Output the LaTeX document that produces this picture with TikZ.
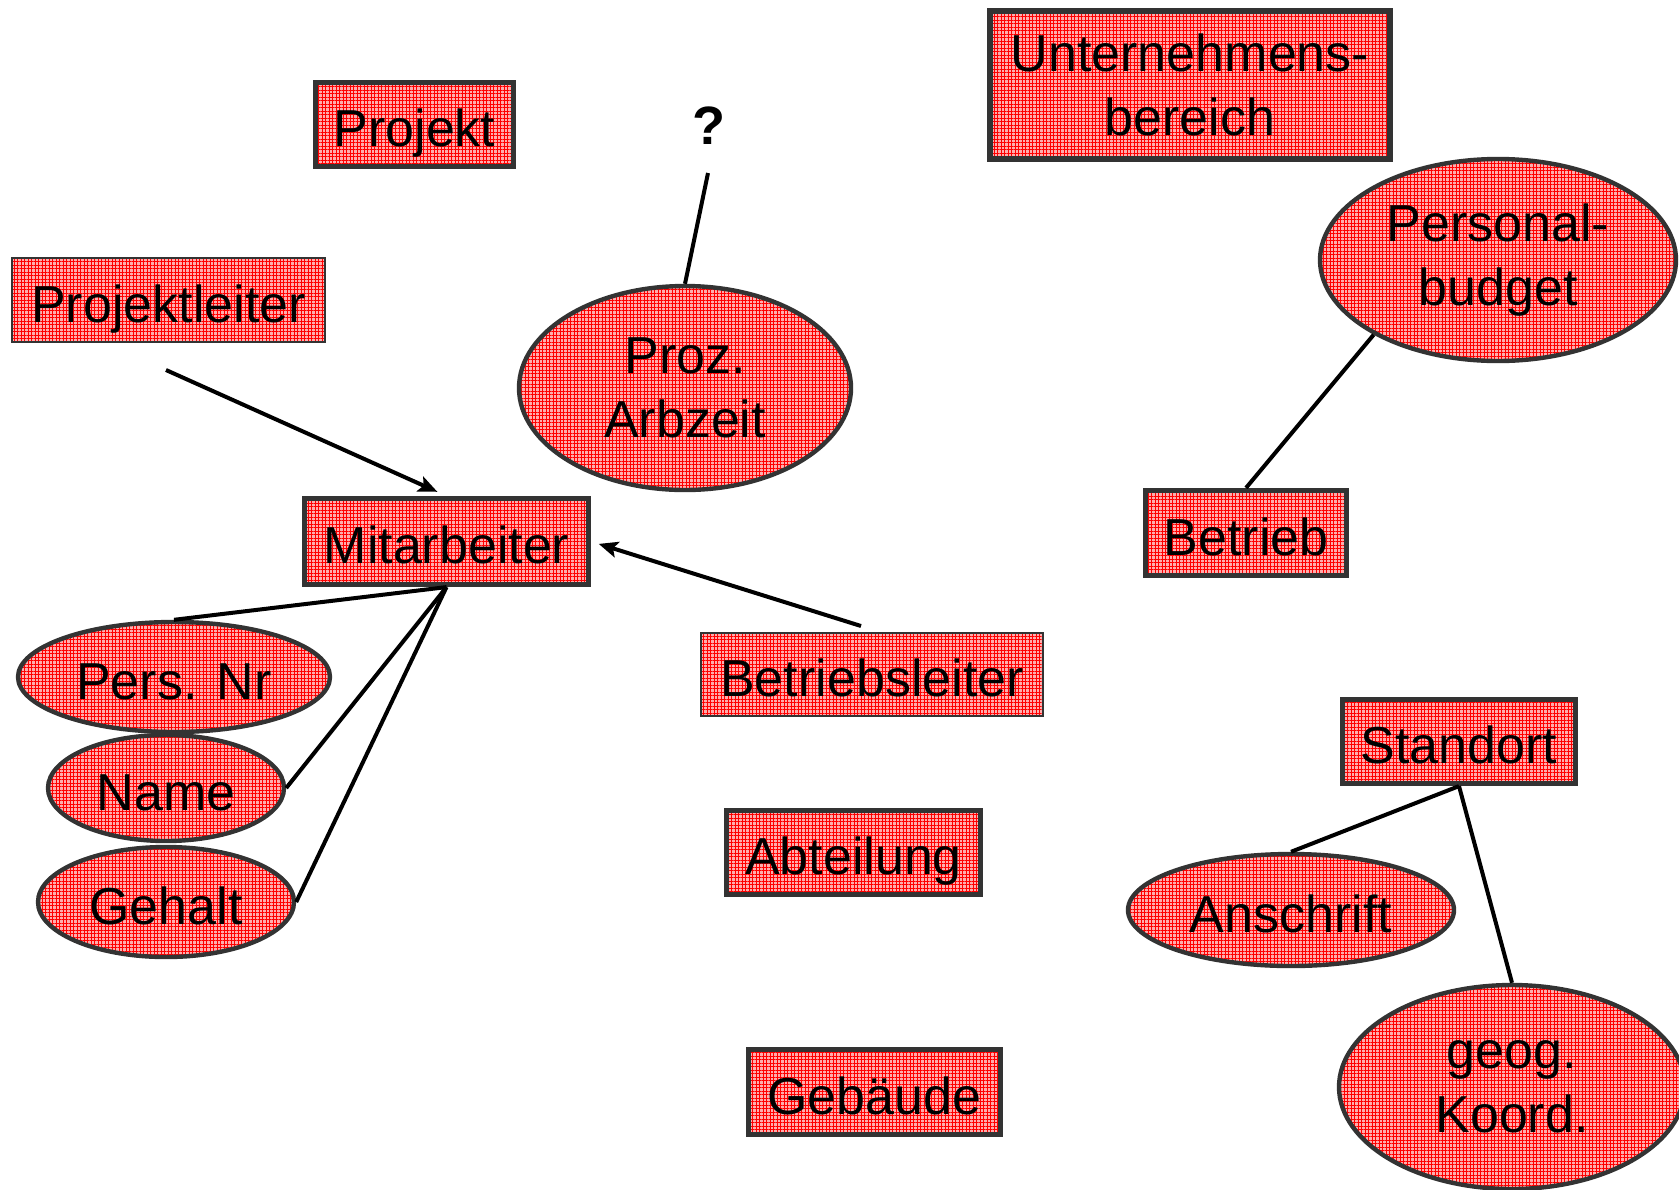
\documentclass[tikz,border=0pt]{standalone}
\usepackage{fontspec}
\setmainfont{Liberation Sans}
\usetikzlibrary{shapes.geometric,patterns.meta,arrows.meta}
\tikzset{
  kariert/.style={pattern={Hatch[angle=0,distance=1.75pt,line width=0.2pt]},pattern color=red,preaction={fill=red!32}},
  entity/.style={kariert,draw=black!80,line width=2.6pt,rectangle,inner sep=0pt,align=center,font=\fontsize{26}{32}\selectfont},
  duenn/.style={entity,line width=1pt},
  attrib/.style={kariert,draw=black!80,line width=2.2pt,ellipse,inner sep=0pt,align=center,font=\fontsize{26}{32}\selectfont},
  einzeilig/.style={text height=22.5pt,text depth=0.5pt},
  verb/.style={line width=2pt},
  pfeil/.style={verb,-{Stealth[length=9.5pt,width=8pt,inset=2pt]}}
}
\begin{document}
\begin{tikzpicture}[x=0.5pt,y=-0.5pt]
\useasboundingbox (0,0) rectangle (1679,1189);
% Entitaeten
\node[entity,einzeilig,minimum width=99pt,minimum height=42pt] (projekt) at (414.5,124.5) {Projekt};
\node[duenn,einzeilig,minimum width=156.5pt,minimum height=42pt] (pl) at (168.5,300) {Projektleiter};
\node[entity,minimum width=200pt,minimum height=74pt] (ub) at (1190,85) {Unternehmens-\\bereich};
\node[entity,einzeilig,minimum width=100.5pt,minimum height=42.5pt] (betrieb) at (1246,533) {Betrieb};
\node[entity,einzeilig,minimum width=142pt,minimum height=43pt] (mit) at (446.5,541.5) {Mitarbeiter};
\node[duenn,einzeilig,minimum width=171pt,minimum height=41.5pt] (bl) at (872,674.5) {Betriebsleiter};
\node[entity,einzeilig,minimum width=127pt,minimum height=42pt] (abt) at (853.5,852.5) {Abteilung};
\node[entity,einzeilig,minimum width=126pt,minimum height=42.5pt] (geb) at (874.5,1092) {Gebäude};
\node[entity,einzeilig,minimum width=116.5pt,minimum height=42pt] (standort) at (1459,741.5) {Standort};
% Attribute
\node[attrib,minimum width=166pt,minimum height=102pt] (proz) at (685,388) {Proz.\\Arbzeit};
\node[attrib,minimum width=178pt,minimum height=101pt] (pb) at (1498,260) {Personal-\\budget};
\node[attrib,einzeilig,minimum width=156pt,minimum height=55pt] (pers) at (174,677) {Pers. Nr};
\node[attrib,einzeilig,minimum width=118pt,minimum height=53pt] (name) at (166,788) {Name};
\node[attrib,einzeilig,minimum width=128pt,minimum height=55pt] (gehalt) at (166,902) {Gehalt};
\node[attrib,einzeilig,minimum width=163pt,minimum height=56pt] (anschrift) at (1291,910) {Anschrift};
\node[attrib,minimum width=173pt,minimum height=102pt] (geo) at (1512,1087) {geog.\\Koord.};
\node[font=\fontsize{27}{32}\selectfont\bfseries] (frage) at (709,126) {?};
% freie Enden
\coordinate (fragefuss) at (708,173);
\coordinate (plfuss) at (166,370);
\coordinate (blkopf) at (861,626);
% Verbindungen
\draw[verb] (fragefuss) -- (proz.north);
\draw[pfeil,shorten >=5pt] (plfuss) -- (mit.north);
\draw[pfeil,shorten >=4pt] (blkopf) -- (mit.east);
\draw[verb] (mit.south) -- (pers.north);
\draw[verb] (mit.south) -- (name.east);
\draw[verb] (mit.south) -- (gehalt.east);
\draw[verb] (pb.211) -- (betrieb.north);
\draw[verb] (standort.south) -- (anschrift.north);
\draw[verb] (standort.south) -- (geo.north);
\end{tikzpicture}
\end{document}
